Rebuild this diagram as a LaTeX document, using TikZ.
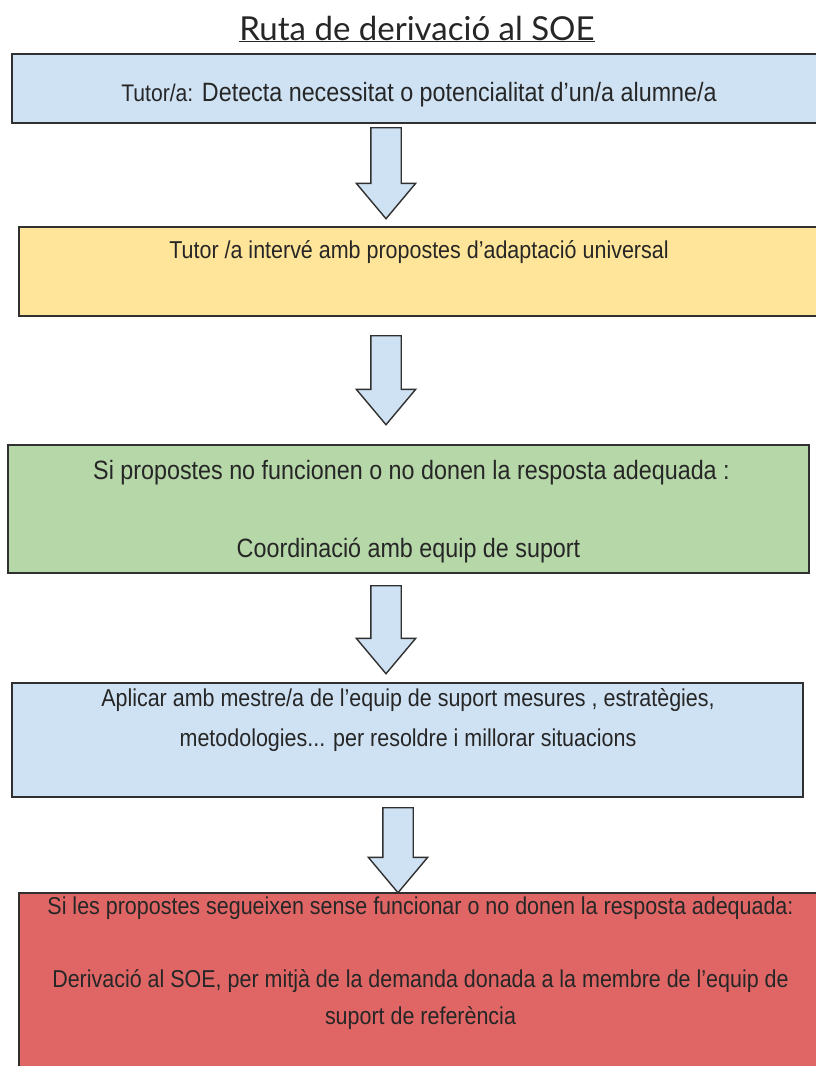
\documentclass[tikz,border=0pt]{standalone}
\usepackage{fontspec}
\newfontfamily\boxfont{Liberation Sans}[FakeStretch=0.88]
\newfontfamily\titlefont{Lato}
\definecolor{stepblue}{HTML}{CFE2F3}
\definecolor{stepyellow}{HTML}{FFE599}
\definecolor{stepgreen}{HTML}{B6D7A8}
\definecolor{stepred}{HTML}{E06666}
\definecolor{edgegray}{HTML}{303030}
\usepackage{tikz}
\usetikzlibrary{shapes, arrows.meta, positioning, calc}

\begin{document}
\begin{tikzpicture}[x=1pt, y=-1pt,
  stepbox/.style={draw=edgegray, line width=1.6pt, inner sep=0pt},
  steptext/.style={font=\boxfont\fontsize{26.5}{40}\selectfont, text=black!85, align=center, inner sep=0pt},
  smalltext/.style={steptext, font=\boxfont\fontsize{24.4}{40}\selectfont},
  downarrow/.style={shape=single arrow, draw=edgegray, fill=stepblue, line width=1.4pt, inner xsep=0pt, inner ysep=14.5pt,
    minimum width=58pt, single arrow head extend=14.5pt, single arrow tip angle=80, rotate=-90, anchor=tail}]
  \useasboundingbox (0,0) rectangle (816,1066);
  \fill[white] (0,0) rectangle (816,1066);

  % Title
  \node[font=\titlefont\fontsize{33}{38}\selectfont, text=black!85] (title) at (417,29) {\underline{Ruta de derivació al SOE}};

  % Step 1
  \node[stepbox, fill=stepblue, minimum width=820pt, minimum height=69pt] (detect) at (422,88.5) {};
  \node[steptext] (detecttxt) at (419,95) {{\fontsize{24}{30}\selectfont Tutor/a:} Detecta necessitat o potencialitat d’un/a alumne/a};
  \node[downarrow, minimum height=91pt] (arr1) at (386,127) {};

  % Step 2
  \node[stepbox, fill=stepyellow, minimum width=812pt, minimum height=89pt] (adapt) at (425,271.5) {};
  \node[smalltext] (adapttxt) at (419,252) {Tutor /a intervé amb propostes d’adaptació universal};
  \node[downarrow, minimum height=89pt] (arr2) at (386,335) {};

  % Step 3
  \node[stepbox, fill=stepgreen, minimum width=801pt, minimum height=128pt] (coord) at (408.5,509) {};
  \node[steptext] (coordtxt1) at (411.5,473) {Si propostes no funcionen o no donen la resposta adequada :};
  \node[steptext] (coordtxt2) at (408.5,550) {Coordinació amb equip de suport};
  \node[downarrow, minimum height=88pt] (arr3) at (386,585) {};

  % Step 4
  \node[stepbox, fill=stepblue, minimum width=791pt, minimum height=114pt] (apply) at (407.5,740) {};
  \node[smalltext] (applytxt) at (408,720) {Aplicar amb mestre/a de l’equip de suport mesures , estratègies,\\metodologies... per resoldre i millorar situacions};
  \node[downarrow, minimum height=85pt] (arr4) at (398,807) {};

  % Step 5
  \node[stepbox, fill=stepred, minimum width=812pt, minimum height=190pt] (refer) at (425,988) {};
  \node[smalltext] (refertxt1) at (420.5,908) {Si les propostes segueixen sense funcionar o no donen la resposta adequada:};
  \node[smalltext, font=\boxfont\fontsize{24.4}{37}\selectfont] (refertxt2) at (420.5,999.5) {Derivació al SOE, per mitjà de la demanda donada a la membre de l’equip de\\suport de referència};
\end{tikzpicture}
\end{document}
